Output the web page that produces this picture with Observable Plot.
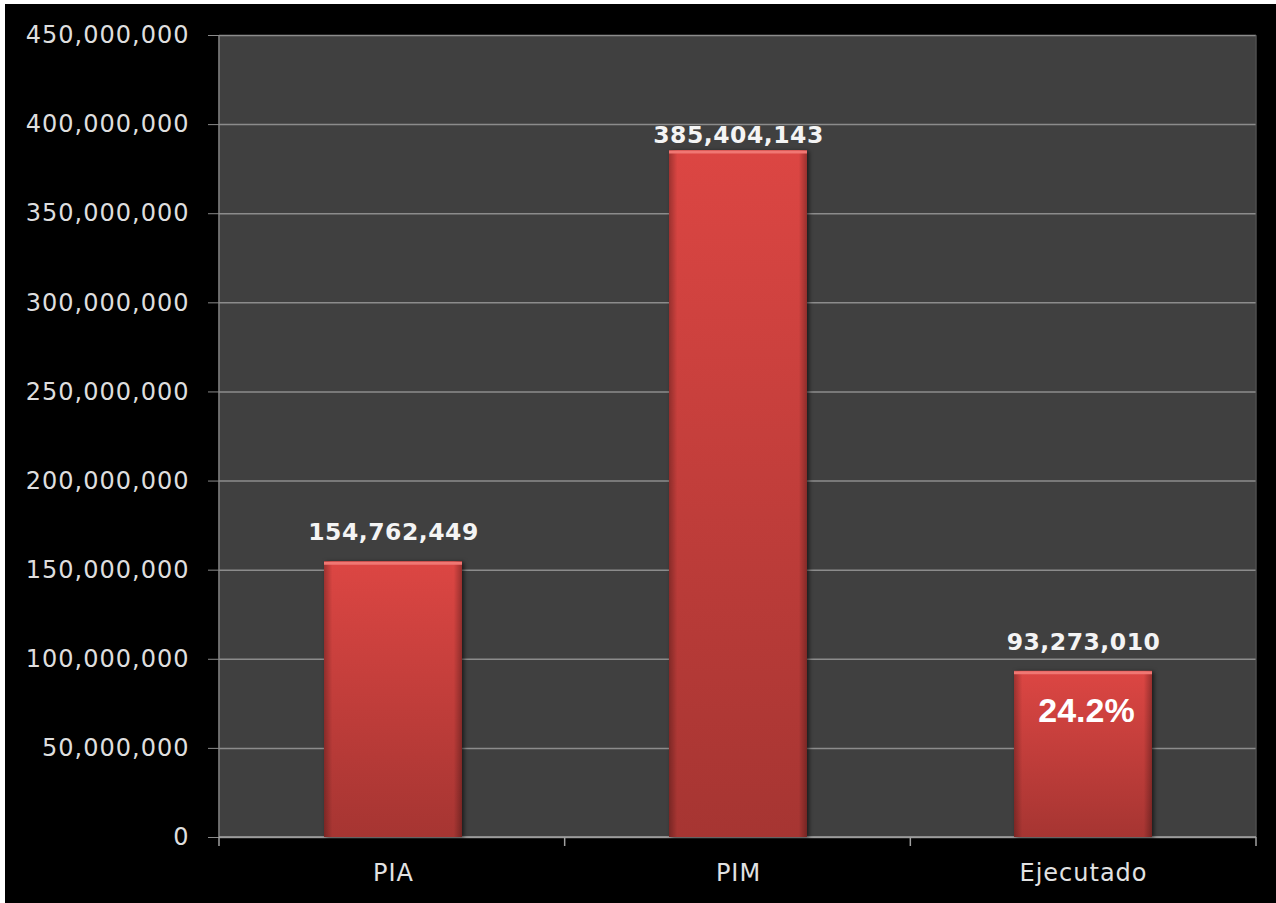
<!DOCTYPE html>
<html>
<head>
<meta charset="utf-8">
<script src="https://cdn.jsdelivr.net/npm/d3@7"></script>
<script src="https://cdn.jsdelivr.net/npm/@observablehq/plot@0.6"></script>
<style>
  html, body { margin: 0; padding: 0; background: #ffffff; }
  #wrap { position: absolute; left: 5px; top: 4px; width: 1271px; height: 899px; background: #000000; }
  #wrap svg { display: block; }
  .yax text { letter-spacing: 1px; }
  .xax text { letter-spacing: 1px; }
  .vlab text { letter-spacing: 0.5px; }
</style>
</head>
<body>
<div id="wrap"></div>
<script>
// Data
const categories = ["PIA", "PIM", "Ejecutado"];
const values = [154762449, 385404143, 93273010];
const yTicks = [0, 50000000, 100000000, 150000000, 200000000, 250000000, 300000000, 350000000, 400000000, 450000000];

const data = categories.map((c, i) => ({cat: c, value: values[i]}));
const pct = values[2] / values[1];
const fmt = d3.format(",");

const W = 1271, H = 899;

// boundary ticks + axis lines drawn from the plot dimensions
function frameLines(index, scales, values, dims) {
  const g = d3.create("svg:g");
  const y = scales.y;
  const y0 = y(0), yTop = y(450000000);
  const step = (dims.width - dims.marginLeft - dims.marginRight) / categories.length;
  const left = dims.marginLeft;
  const right = left + step * categories.length;
  g.append("line").attr("x1", left).attr("x2", left).attr("y1", yTop).attr("y2", y0)
    .attr("stroke", "#8a8a8a").attr("stroke-width", 1.5);
  g.append("line").attr("x1", right).attr("x2", right)
    .attr("y1", yTop).attr("y2", y0).attr("stroke", "#555").attr("stroke-width", 1);
  g.append("line").attr("x1", left).attr("x2", right).attr("y1", y0).attr("y2", y0)
    .attr("stroke", "#a0a0a0").attr("stroke-width", 1.5);
  for (let i = 0; i <= categories.length; i++) {
    const xx = left + i * step;
    g.append("line").attr("x1", xx).attr("x2", xx).attr("y1", y0).attr("y2", y0 + 9)
      .attr("stroke", "#a0a0a0").attr("stroke-width", 1.5);
  }
  return g.node();
}

const chart = Plot.plot({
  width: W,
  height: H,
  marginLeft: 214,
  marginRight: 20,
  marginTop: 31,
  marginBottom: 66,
  style: {background: "transparent", color: "#dcdcdc", overflow: "visible"},
  x: {domain: categories, paddingInner: 0.6, paddingOuter: 0.3, label: null},
  y: {domain: [0, 450000000], label: null},
  marks: [
    Plot.frame({fill: "#404040", stroke: null}),
    Plot.gridY(yTicks, {stroke: "#8c8c8c", strokeOpacity: 1, strokeWidth: 1.5}),
    Plot.axisY({ticks: yTicks, tickFormat: fmt, tickSize: 11, tickPadding: 19, stroke: "#8a8a8a",
      fontSize: 24, fontFamily: "DejaVu Sans", fill: "#dedede", label: null, className: "yax"}),
    Plot.axisX({tickSize: 0, tickPadding: 26, fontSize: 24, fontFamily: "DejaVu Sans", fill: "#e2e2e2", label: null, className: "xax"}),
    frameLines,
    Plot.barY(data, {x: "cat", y: "value", fill: "url(#barGrad)", className: "bars"}),
    Plot.barY(data, {x: "cat", y: "value", fill: "url(#sideGrad)"}),
    Plot.tickY(data, {x: "cat", y: "value", stroke: "#f07773", strokeWidth: 3, dy: 1.5}),
    Plot.text(data.filter(d => d.cat !== "PIM"), {x: "cat", y: "value", text: d => fmt(d.value), dy: -29,
      fill: "#f4f4f4", fontSize: 23.5, fontWeight: "bold", fontFamily: "DejaVu Sans", className: "vlab"}),
    Plot.text(data.filter(d => d.cat === "PIM"), {x: "cat", y: "value", text: d => fmt(d.value), dy: -15,
      fill: "#f4f4f4", fontSize: 23.5, fontWeight: "bold", fontFamily: "DejaVu Sans", className: "vlab"}),
    Plot.text(data.filter(d => d.cat === "Ejecutado"), {x: "cat", y: "value", text: () => d3.format(".1%")(pct),
      dy: 40, dx: 3, fill: "#ffffff", fontSize: 34, fontWeight: "bold", fontFamily: "Liberation Sans"})
  ]
});

// gradient definitions
const svg = d3.select(chart.tagName.toLowerCase() === "svg" ? chart : chart.querySelector("svg"));
const defs = svg.insert("defs", ":first-child");
const vg = defs.append("linearGradient").attr("id", "barGrad").attr("x1", 0).attr("y1", 0).attr("x2", 0).attr("y2", 1);
vg.append("stop").attr("offset", "0%").attr("stop-color", "#dc4643");
vg.append("stop").attr("offset", "100%").attr("stop-color", "#a63532");
const hg = defs.append("linearGradient").attr("id", "sideGrad").attr("x1", 0).attr("y1", 0).attr("x2", 1).attr("y2", 0);
hg.append("stop").attr("offset", "0%").attr("stop-color", "#000").attr("stop-opacity", 0.28);
hg.append("stop").attr("offset", "6%").attr("stop-color", "#000").attr("stop-opacity", 0.0);
hg.append("stop").attr("offset", "94%").attr("stop-color", "#000").attr("stop-opacity", 0.0);
hg.append("stop").attr("offset", "100%").attr("stop-color", "#000").attr("stop-opacity", 0.3);
svg.selectAll(".bars rect").style("filter", "drop-shadow(2px 1px 2px rgba(0,0,0,0.6))");

document.getElementById("wrap").appendChild(chart);
</script>
</body>
</html>
